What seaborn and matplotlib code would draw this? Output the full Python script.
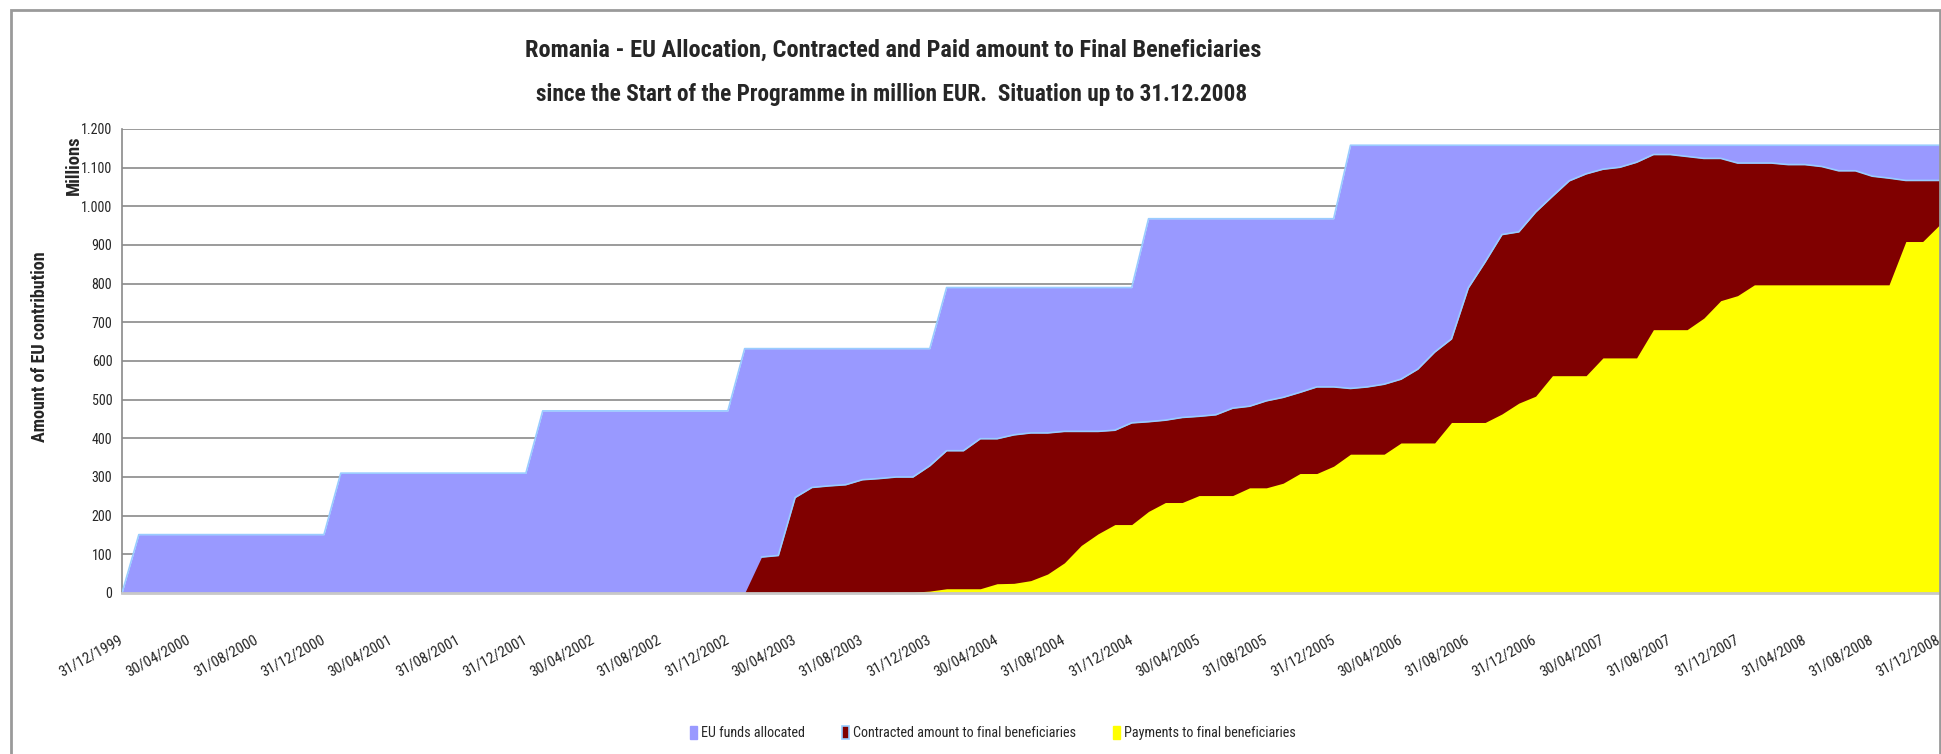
import matplotlib
matplotlib.use("Agg")
import matplotlib.pyplot as plt
from matplotlib import font_manager
from matplotlib.patches import Rectangle
import seaborn as sns
import numpy as np
import pandas as pd

# monthly values, 31/12/1999 .. 31/12/2008 (million EUR)
allocated = [0,
    151, 151, 151, 151, 151, 151, 151, 151, 151, 151, 151, 151,
    310, 310, 310, 310, 310, 310, 310, 310, 310, 310, 310, 310,
    471, 471, 471, 471, 471, 471, 471, 471, 471, 471, 471, 471,
    632, 632, 632, 632, 632, 632, 632, 632, 632, 632, 632, 632,
    790, 790, 790, 790, 790, 790, 790, 790, 790, 790, 790, 790,
    968, 968, 968, 968, 968, 968, 968, 968, 968, 968, 968, 968,
    1158, 1158, 1158, 1158, 1158, 1158, 1158, 1158, 1158, 1158, 1158, 1158,
    1158, 1158, 1158, 1158, 1158, 1158, 1158, 1158, 1158, 1158, 1158, 1158,
    1158, 1158, 1158, 1158, 1158, 1158, 1158, 1158, 1158, 1158, 1158, 1158]

contracted = [0,
    0, 0, 0, 0, 0, 0, 0, 0, 0, 0, 0, 0,
    0, 0, 0, 0, 0, 0, 0, 0, 0, 0, 0, 0,
    0, 0, 0, 0, 0, 0, 0, 0, 0, 0, 0, 0,
    0, 93, 97, 247, 273, 277, 280, 293, 296, 300, 300, 329,
    368, 368, 399, 399, 409, 414, 414, 418, 418, 418, 421, 440,
    443, 447, 454, 457, 461, 478, 483, 497, 506, 519, 533, 533,
    529, 533, 540, 553, 579, 623, 657, 789, 856, 927, 934, 985,
    1026, 1066, 1084, 1096, 1101, 1114, 1134, 1134, 1129, 1124, 1124, 1112,
    1112, 1112, 1108, 1108, 1103, 1092, 1092, 1078, 1073, 1067, 1067, 1067]

payments = [0,
    0, 0, 0, 0, 0, 0, 0, 0, 0, 0, 0, 0,
    0, 0, 0, 0, 0, 0, 0, 0, 0, 0, 0, 0,
    0, 0, 0, 0, 0, 0, 0, 0, 0, 0, 0, 0,
    0, 0, 0, 0, 0, 0, 0, 0, 0, 2, 2, 5,
    11, 11, 11, 24, 25, 32, 49, 78, 123, 153, 177, 177,
    211, 234, 234, 252, 252, 252, 272, 272, 284, 309, 309, 328,
    359, 359, 359, 388, 388, 388, 441, 441, 441, 463, 491, 509,
    562, 562, 562, 608, 608, 608, 681, 681, 681, 711, 756, 769,
    797, 797, 797, 797, 797, 797, 797, 797, 797, 909, 909, 952]

x_labels = ['31/12/1999', '30/04/2000', '31/08/2000', '31/12/2000', '30/04/2001',
            '31/08/2001', '31/12/2001', '30/04/2002', '31/08/2002', '31/12/2002',
            '30/04/2003', '31/08/2003', '31/12/2003', '30/04/2004', '31/08/2004',
            '31/12/2004', '30/04/2005', '31/08/2005', '31/12/2005', '30/04/2006',
            '31/08/2006', '31/12/2006', '30/04/2007', '31/08/2007', '31/12/2007',
            '31/04/2008', '31/08/2008', '31/12/2008']
y_ticks = [0, 100, 200, 300, 400, 500, 600, 700, 800, 900, 1000, 1100, 1200]
y_labels = ['0', '100', '200', '300', '400', '500', '600', '700', '800', '900',
            '1.000', '1.100', '1.200']
series_names = ['EU funds allocated', 'Contracted amount to final beneficiaries',
                'Payments to final beneficiaries']
title1 = 'Romania - EU Allocation, Contracted and Paid amount to Final Beneficiaries'
title2 = 'since the Start of the Programme in million EUR.  Situation up to 31.12.2008'

df = pd.DataFrame({'month': np.arange(len(allocated)), 'allocated': allocated,
                   'contracted': contracted, 'payments': payments})

sns.set_style('white')

# narrow font if there is one, else Liberation Sans
fonts = font_manager.fontManager.ttflist
font, stretch = 'Liberation Sans', 'normal'
for fam in ['Liberation Sans Narrow', 'Roboto Condensed', 'Open Sans Condensed',
            'Noto Sans', 'Open Sans', 'Roboto', 'DejaVu Sans']:
    hits = [f for f in fonts if f.name == fam]
    if not hits:
        continue
    if 'Narrow' in fam or 'Condensed' in fam:
        font = fam
        break
    if any('condensed' in str(f.stretch) for f in hits):
        font, stretch = fam, 'condensed'
        break
plt.rcParams['font.family'] = [font, 'DejaVu Sans']
plt.rcParams['font.stretch'] = stretch

W, H = 1941, 754
fig = plt.figure(figsize=(W / 100, H / 100), dpi=100)
fig.patch.set_facecolor('white')
renderer = fig.canvas.get_renderer()


def size_for(s, width_px, weight='normal'):
    t = fig.text(0, 0, s, fontsize=10, fontweight=weight)
    w = t.get_window_extent(renderer=renderer).width
    t.remove()
    return 10 * width_px / w


# outer chart border
fig.patches.append(Rectangle((11 / W, -0.05), (1940 - 11) / W, 1 - 10 / H + 0.05,
                             transform=fig.transFigure, fill=False,
                             edgecolor='#9a9a9a', linewidth=2))

left, right, top, bottom = 122, 1939.5, 129, 593
ax = fig.add_axes([left / W, 1 - bottom / H, (right - left) / W, (bottom - top) / H])

colors = ['#9999ff', '#800000', '#ffff00']
edge = '#99ccff'

ax.fill_between(df['month'], df['allocated'], color=colors[0], lw=0, zorder=2)
sns.lineplot(data=df, x='month', y='allocated', color=edge, lw=1.2, ax=ax, zorder=3)
ax.fill_between(df['month'], df['contracted'], color=colors[1], lw=0, zorder=4)
sns.lineplot(data=df[df['contracted'] > 0], x='month', y='contracted', color=edge,
             lw=1.2, ax=ax, zorder=5)
ax.fill_between(df['month'], df['payments'], color=colors[2], lw=0, zorder=6)

tick_fs = size_for('31/12/1999', 70)
ytick_fs = size_for('1.200', 31)

ax.set_xlim(0, len(allocated) - 1)
ax.set_ylim(0, 1200)
ax.set_yticks(y_ticks)
ax.set_yticklabels(y_labels, fontsize=ytick_fs)
ax.set_xticks(np.arange(0, len(allocated), 4))
ax.set_xticklabels(x_labels, fontsize=tick_fs, rotation=29, ha='right',
                   rotation_mode='anchor', va='center')
ax.tick_params(axis='x', length=0, pad=33)
ax.tick_params(axis='y', length=0, pad=7)
ax.set_xlabel('')
ax.set_ylabel('')

ax.set_axisbelow(True)
ax.yaxis.grid(True, color='#8a8a8a', lw=1.2)
ax.xaxis.grid(False)
for s in ['top', 'right']:
    ax.spines[s].set_visible(False)
ax.spines['left'].set_color('#8a8a8a')
ax.spines['left'].set_linewidth(1.2)
ax.spines['bottom'].set_color('#c8c8c8')
ax.spines['bottom'].set_linewidth(2)
ax.spines['bottom'].set_zorder(7)

fig.text(893 / W, 1 - 50 / H, title1, ha='center', va='center',
         fontsize=size_for(title1, 735, 'bold'), fontweight='bold')
fig.text(892 / W, 1 - 95 / H, title2, ha='center', va='center',
         fontsize=size_for(title2, 710, 'bold'), fontweight='bold')

fig.text(40 / W, 1 - 347 / H, 'Amount of EU contribution', rotation=90,
         ha='center', va='center', fontsize=size_for('Amount of EU contribution', 190, 'bold'),
         fontweight='bold')
fig.text(74 / W, 1 - 165 / H, 'Millions', rotation=90,
         ha='center', va='center', fontsize=size_for('Millions', 60, 'bold'),
         fontweight='bold')

leg_fs = size_for(series_names[0], 104)
fs_px = leg_fs * 100 / 72
handles = [Rectangle((0, 0), 1, 1, facecolor=colors[0], edgecolor=colors[0]),
           Rectangle((0, 0), 1, 1, facecolor=colors[1], edgecolor=edge, lw=1.2),
           Rectangle((0, 0), 1, 1, facecolor=colors[2], edgecolor=colors[2])]
fig.legend(handles, series_names, loc='center left', bbox_to_anchor=(690 / W, 1 - 733 / H),
           ncol=3, frameon=False, fontsize=leg_fs, handlelength=7 / fs_px,
           handleheight=14 / fs_px, handletextpad=4 / fs_px, columnspacing=37 / fs_px,
           borderpad=0, borderaxespad=0)

fig.savefig('out.png', dpi=100, facecolor='white')
